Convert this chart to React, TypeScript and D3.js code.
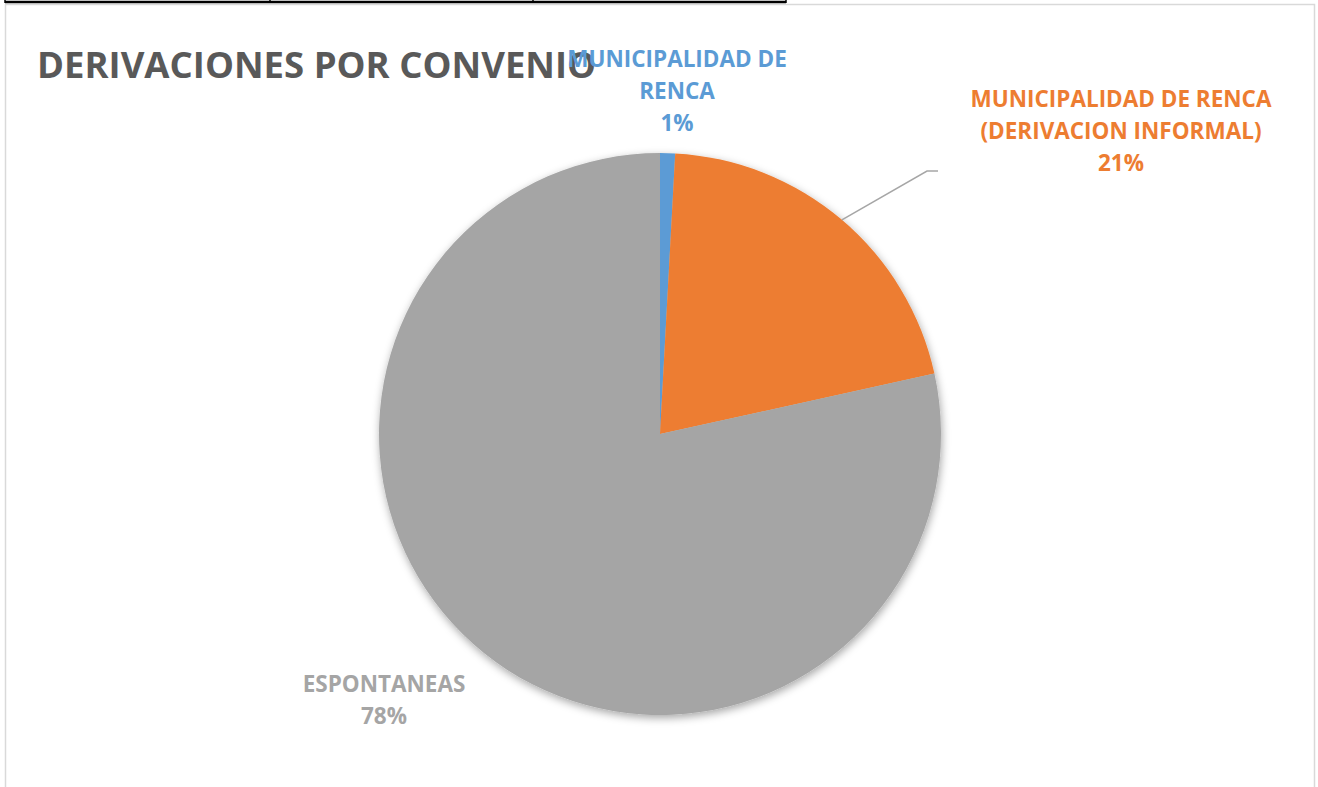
import React from 'react';
import * as d3 from 'd3';

// chart data
const categories = ['MUNICIPALIDAD DE RENCA', 'MUNICIPALIDAD DE RENCA (DERIVACION INFORMAL)', 'ESPONTANEAS'];
const values = [1, 24, 91];
const colors = ['#5B9BD5', '#ED7D31', '#A5A5A5'];
// label text broken the way the reference wraps it
const labelLines = [
  ['MUNICIPALIDAD DE', 'RENCA'],
  ['MUNICIPALIDAD DE RENCA', '(DERIVACION INFORMAL)'],
  ['ESPONTANEAS'],
];
const title = 'DERIVACIONES POR CONVENIO';

// layout
const W = 1318;
const H = 787;
const cx = 660;
const cy = 434;
const radius = 281;
const lineGap = 32;
// first baseline of each label block (x = centre)
const labelAnchors: [number, number][] = [
  [677, 67],
  [1121, 107],
  [384, 692],
];
const tableCols = [5, 270, 533, 786];

export default function App() {
  const total = d3.sum(values);
  const pie = d3.pie<number>().sort(null).value(d => d);
  const arcs = pie(values);
  const arc = d3.arc<d3.PieArcDatum<number>>().innerRadius(0).outerRadius(radius);
  const fmt = d3.format('.0%');

  // leader line for the orange slice
  const orange = arcs[1];
  const mid = (orange.startAngle + orange.endAngle) / 2;
  const edge: [number, number] = [cx + Math.sin(mid) * radius, cy - Math.cos(mid) * radius];
  const leader = d3.line()([edge, [927, 171], [938, 171]]);

  return (
    <svg width={W} height={H} style={{ position: 'absolute', left: 0, top: 0 }}
      fontFamily="'Open Sans', 'Noto Sans', sans-serif">
      <defs>
        <filter id="pieShadow" x="-20%" y="-20%" width="140%" height="140%">
          <feDropShadow dx="1" dy="3" stdDeviation="4" floodColor="#000" floodOpacity="0.35" />
        </filter>
      </defs>
      <rect x={0} y={0} width={W} height={H} fill="#fff" />

      {/* chart frame */}
      <rect x={5.5} y={4.5} width={1309} height={H} fill="none" stroke="#D9D9D9" strokeWidth={1.5} />

      {/* table border above the chart */}
      <line x1={tableCols[0]} x2={tableCols[tableCols.length - 1]} y1={2} y2={2} stroke="#000" strokeWidth={2.5} />
      {tableCols.map((x, i) => (
        <line key={i} x1={x} x2={x} y1={0} y2={3} stroke="#000" strokeWidth={1.5} />
      ))}

      <text x={37} y={78} fontSize={36.5} fontWeight="bold" fill="#595959">{title}</text>

      <g transform={`translate(${cx},${cy})`} filter="url(#pieShadow)">
        {arcs.map((a, i) => (
          <path key={categories[i]} d={arc(a) || ''} fill={colors[i]} />
        ))}
      </g>

      <path d={leader || ''} fill="none" stroke="#A6A6A6" strokeWidth={1.5} />

      {arcs.map((a, i) => {
        const [lx, ly] = labelAnchors[i];
        const lines = [...labelLines[i], fmt(values[i] / total)];
        return (
          <text key={i} x={lx} y={ly} textAnchor="middle" fontSize={22.5} fontWeight="bold" fill={colors[i]}>
            {lines.map((t, j) => (
              <tspan key={j} x={lx} y={ly + j * lineGap}>{t}</tspan>
            ))}
          </text>
        );
      })}
    </svg>
  );
}
